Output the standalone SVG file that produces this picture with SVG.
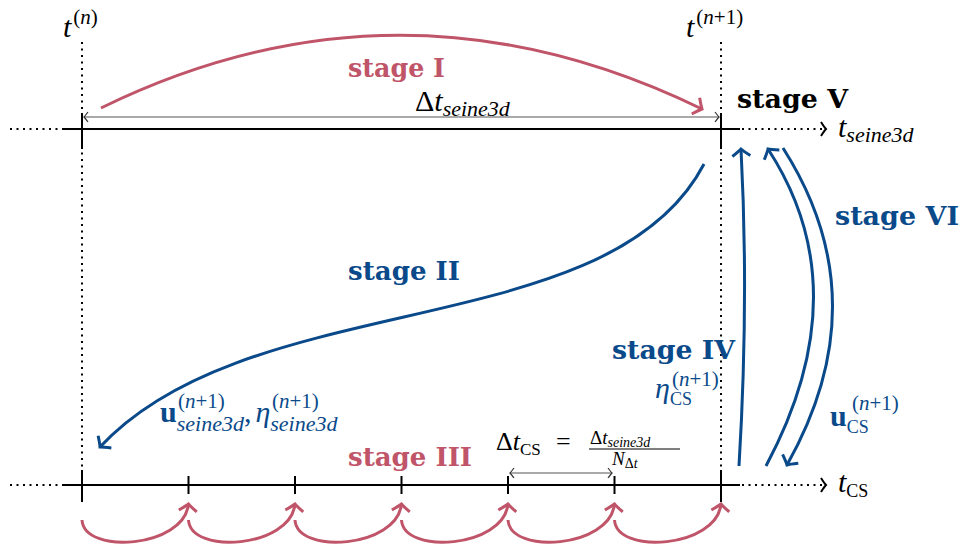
<svg xmlns="http://www.w3.org/2000/svg" width="960" height="547" viewBox="0 0 960 547">
<style>
.axis{stroke:#000;stroke-width:2;fill:none}
.dot{stroke:#000;stroke-width:2;fill:none;stroke-dasharray:2 4.5}
.pink{stroke:#c05469;stroke-width:3;fill:none}
.blue{stroke:#0a4a8a;stroke-width:3;fill:none}
.dim{stroke:#555;stroke-width:1.2;fill:none}
.st{font-family:"DejaVu Serif",serif;font-weight:bold;font-size:25.5px}
.m{font-family:"Liberation Serif",serif}
.mi{font-family:"Liberation Serif",serif;font-style:italic}
.bf{font-family:"Liberation Serif",serif;font-weight:bold;font-style:normal}
.cp{fill:#c05469}.cb{fill:#0a4a8a}.ck{fill:#000}
</style>
<defs>
<marker id="ap" markerUnits="userSpaceOnUse" orient="auto" overflow="visible" markerWidth="20" markerHeight="20"><path d="M-7,-9 Q-2,-2 0,0 Q-2,2 -7,9" fill="none" stroke="#c05469" stroke-width="3"/></marker>
<marker id="ab" markerUnits="userSpaceOnUse" orient="auto" overflow="visible" markerWidth="20" markerHeight="20"><path d="M-7,-9 Q-2,-2 0,0 Q-2,2 -7,9" fill="none" stroke="#0a4a8a" stroke-width="3"/></marker>
<marker id="ak" markerUnits="userSpaceOnUse" orient="auto" overflow="visible" markerWidth="20" markerHeight="20"><path d="M-5,-7 Q-1.5,-1.5 0,0 Q-1.5,1.5 -5,7" fill="none" stroke="#000" stroke-width="2"/></marker>
<marker id="ag" markerUnits="userSpaceOnUse" orient="auto-start-reverse" overflow="visible" markerWidth="20" markerHeight="20"><path d="M-4,-5 Q-1,-1 0,0 Q-1,1 -4,5" fill="none" stroke="#333" stroke-width="1.2"/></marker>
</defs>

<g id="axes">
<line class="dot" x1="82" y1="42" x2="82" y2="470"/>
<line class="dot" x1="721" y1="42" x2="721" y2="470"/>
<line class="dot" x1="10" y1="129" x2="64" y2="129"/>
<line class="axis" x1="64" y1="129" x2="740" y2="129"/>
<line class="dot" x1="742" y1="129" x2="826" y2="129" marker-end="url(#ak)"/>
<line class="axis" x1="82" y1="113" x2="82" y2="149"/>
<line class="axis" x1="721" y1="113" x2="721" y2="149"/>
<line class="dot" x1="10" y1="485" x2="64" y2="485"/>
<line class="axis" x1="64" y1="485" x2="740" y2="485"/>
<line class="dot" x1="742" y1="485" x2="826" y2="485" marker-end="url(#ak)"/>
<line class="axis" x1="82" y1="470" x2="82" y2="502"/>
<line class="axis" x1="188.5" y1="476" x2="188.5" y2="494"/>
<line class="axis" x1="295" y1="476" x2="295" y2="494"/>
<line class="axis" x1="401.5" y1="476" x2="401.5" y2="494"/>
<line class="axis" x1="508" y1="476" x2="508" y2="494"/>
<line class="axis" x1="614.5" y1="476" x2="614.5" y2="494"/>
<line class="axis" x1="721" y1="470" x2="721" y2="502"/>
</g>

<g id="connectors">
<line class="dim" x1="84" y1="117" x2="719" y2="117" marker-start="url(#ag)" marker-end="url(#ag)"/>
<line class="dim" x1="510" y1="473" x2="612" y2="473" marker-start="url(#ag)" marker-end="url(#ag)"/>
<path id="stageI" class="pink" d="M101,108 Q400,-38 702,109" marker-end="url(#ap)"/>
<path id="stageII" class="blue" d="M704,164 C610,345 250,285 100,447" marker-end="url(#ab)"/>
<path id="stageIV" class="blue" d="M739,466 Q749,300 741,149" marker-end="url(#ab)"/>
<path id="stageVIup" class="blue" d="M766,466 Q860,290 768,149" marker-end="url(#ab)"/>
<path id="stageVIdown" class="blue" d="M783,148 Q880,300 787,465" marker-end="url(#ab)"/>
<g id="stageIII-arrows">
<path class="pink" d="M82,520 C84,555 184,548 188.5,504" marker-end="url(#ap)"/>
<path class="pink" d="M188.5,520 C190.5,555 290.5,548 295,504" marker-end="url(#ap)"/>
<path class="pink" d="M295,520 C297,555 397,548 401.5,504" marker-end="url(#ap)"/>
<path class="pink" d="M401.5,520 C403.5,555 503.5,548 508,504" marker-end="url(#ap)"/>
<path class="pink" d="M508,520 C510,555 610,548 614.5,504" marker-end="url(#ap)"/>
<path class="pink" d="M614.5,520 C616.5,555 716.5,548 721,504" marker-end="url(#ap)"/>
</g>
</g>

<g id="label-tn">
<text class="m ck" x="63" y="37" font-size="30"><tspan class="mi">t</tspan><tspan font-size="21" dy="-13" dx="2">(<tspan class="mi">n</tspan>)</tspan></text>
</g>
<g id="label-tn1">
<text class="m ck" x="686" y="37" font-size="30"><tspan class="mi">t</tspan><tspan font-size="21" dy="-13" dx="2">(<tspan class="mi">n</tspan>+1)</tspan></text>
</g>
<g id="label-tseine">
<text class="m ck" x="838" y="137" font-size="30"><tspan class="mi">t</tspan><tspan class="mi" font-size="22" dy="5">seine3d</tspan></text>
</g>
<g id="label-tcs">
<text class="m ck" x="838" y="492" font-size="30"><tspan class="mi">t</tspan><tspan font-size="18" dy="5">CS</tspan></text>
</g>
<g id="label-dtseine">
<text class="m ck" x="415" y="111" font-size="30">Δ<tspan class="mi">t</tspan><tspan class="mi" font-size="22" dy="5">seine3d</tspan></text>
</g>
<g id="label-dtcs">
<text class="m ck" x="496" y="450" font-size="26">Δ<tspan class="mi">t</tspan><tspan font-size="17" dy="5">CS</tspan></text>
<text class="m ck" x="556" y="450" font-size="26">=</text>
<text class="m ck" x="590" y="444" font-size="19">Δ<tspan class="mi">t</tspan><tspan class="mi" font-size="14" dy="3">seine3d</tspan></text>
<line x1="589" y1="449" x2="680" y2="449" stroke="#000" stroke-width="1"/>
<text class="m ck" x="612" y="465" font-size="19"><tspan class="mi">N</tspan><tspan font-size="14" dy="3">Δ<tspan class="mi">t</tspan></tspan></text>
</g>

<g id="stage-I"><text class="st cp" x="348" y="77" textLength="97" lengthAdjust="spacingAndGlyphs">stage I</text></g>
<g id="stage-II"><text class="st cb" x="348" y="280" textLength="112" lengthAdjust="spacingAndGlyphs">stage II</text></g>
<g id="stage-III"><text class="st cp" x="348" y="466" textLength="124" lengthAdjust="spacingAndGlyphs">stage III</text></g>
<g id="stage-IV"><text class="st cb" x="612" y="359" textLength="123" lengthAdjust="spacingAndGlyphs">stage IV</text></g>
<g id="stage-V"><text class="st ck" x="737" y="108" textLength="111" lengthAdjust="spacingAndGlyphs">stage V</text></g>
<g id="stage-VI"><text class="st cb" x="835" y="225" textLength="124" lengthAdjust="spacingAndGlyphs">stage VI</text></g>

<g id="label-useine">
<text class="m cb" x="160" y="422" font-size="30"><tspan class="bf">u</tspan><tspan class="mi" font-size="22" dy="9">seine3d</tspan><tspan dy="-9">,</tspan><tspan class="mi" dx="4">η</tspan><tspan class="mi" font-size="22" dy="9">seine3d</tspan></text>
<text class="m cb" x="178" y="408" font-size="21">(<tspan class="mi">n</tspan>+1)</text>
<text class="m cb" x="272" y="408" font-size="21">(<tspan class="mi">n</tspan>+1)</text>
</g>
<g id="label-etacs">
<text class="m cb" x="655" y="398" font-size="30"><tspan class="mi">η</tspan><tspan font-size="18" dy="7">CS</tspan></text>
<text class="m cb" x="672" y="386" font-size="21">(<tspan class="mi">n</tspan>+1)</text>
</g>
<g id="label-ucs">
<text class="m cb" x="830" y="426" font-size="30"><tspan class="bf">u</tspan><tspan font-size="18" dy="7">CS</tspan></text>
<text class="m cb" x="852" y="410" font-size="21">(<tspan class="mi">n</tspan>+1)</text>
</g>
</svg>
